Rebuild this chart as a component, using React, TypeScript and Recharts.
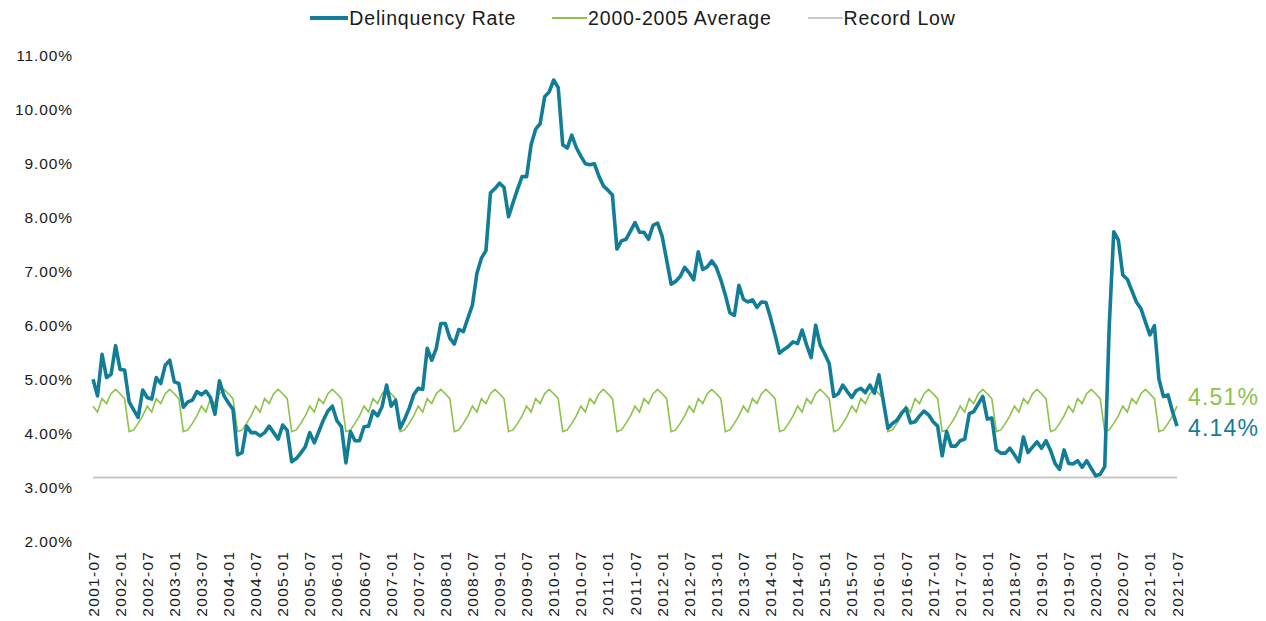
import React from 'react';
import { LineChart, Line, XAxis, YAxis, ReferenceLine, Legend, LabelList } from 'recharts';

// ---- data ----
const START_YEAR = 2001;
const START_MONTH = 7;

const DELINQUENCY: number[] = [
  5.01, 4.70, 5.47, 5.04, 5.10, 5.63, 5.19, 5.18, 4.59, 4.44, 4.30, 4.81,
  4.67, 4.64, 5.04, 4.93, 5.27, 5.36, 4.96, 4.93, 4.49, 4.59, 4.62, 4.78,
  4.72, 4.79, 4.67, 4.36, 4.98, 4.70, 4.57, 4.45, 3.61, 3.65, 4.14, 4.02,
  4.02, 3.96, 4.02, 4.14, 4.02, 3.90, 4.16, 4.06, 3.48, 3.54, 3.64, 3.76,
  4.02, 3.83, 4.04, 4.25, 4.42, 4.51, 4.24, 4.13, 3.46, 4.04, 3.87, 3.87,
  4.13, 4.14, 4.42, 4.33, 4.50, 4.90, 4.51, 4.62, 4.10, 4.27, 4.47, 4.72,
  4.84, 4.82, 5.58, 5.36, 5.58, 6.04, 6.04, 5.77, 5.66, 5.93, 5.89, 6.14,
  6.38, 6.97, 7.25, 7.39, 8.46, 8.54, 8.64, 8.56, 8.02, 8.28, 8.53, 8.76,
  8.76, 9.35, 9.64, 9.74, 10.24, 10.33, 10.55, 10.41, 9.35, 9.29, 9.53, 9.30,
  9.14, 9.00, 8.98, 9.00, 8.77, 8.59, 8.51, 8.42, 7.42, 7.57, 7.60, 7.75,
  7.91, 7.73, 7.73, 7.60, 7.86, 7.90, 7.66, 7.22, 6.77, 6.82, 6.91, 7.08,
  6.98, 6.85, 7.37, 7.04, 7.09, 7.20, 7.08, 6.85, 6.57, 6.24, 6.19, 6.75,
  6.49, 6.44, 6.48, 6.34, 6.44, 6.43, 6.15, 5.83, 5.49, 5.56, 5.62, 5.70,
  5.67, 5.92, 5.64, 5.41, 6.01, 5.64, 5.48, 5.30, 4.69, 4.74, 4.90, 4.78,
  4.67, 4.80, 4.84, 4.76, 4.90, 4.75, 5.09, 4.59, 4.10, 4.19, 4.25, 4.38,
  4.47, 4.20, 4.22, 4.33, 4.42, 4.35, 4.22, 4.14, 3.59, 4.04, 3.77, 3.77,
  3.87, 3.90, 4.37, 4.41, 4.55, 4.69, 4.27, 4.29, 3.70, 3.64, 3.64, 3.73,
  3.61, 3.48, 3.94, 3.65, 3.75, 3.85, 3.73, 3.87, 3.69, 3.45, 3.34, 3.70,
  3.45, 3.44, 3.50, 3.38, 3.50, 3.36, 3.22, 3.25, 3.39, 6.00, 7.74, 7.59,
  6.94, 6.86, 6.65, 6.44, 6.32, 6.07, 5.83, 6.00, 5.01, 4.69, 4.72, 4.41,
  4.14,
];

// 2000-2005 average by calendar month (Jan..Dec)
const AVG_BY_MONTH: number[] = [4.74, 4.65, 4.04, 4.07, 4.19, 4.33, 4.51, 4.40, 4.65, 4.56, 4.74, 4.82];

const RECORD_LOW = 3.19;

const Y_TICKS: number[] = [2, 3, 4, 5, 6, 7, 8, 9, 10, 11];

const SERIES_NAMES = ['Delinquency Rate', '2000-2005 Average', 'Record Low'];

// ---- derived table ----
const MONTHS: string[] = DELINQUENCY.map((_, i) => {
  const m0 = START_MONTH - 1 + i;
  const y = START_YEAR + Math.floor(m0 / 12);
  const m = (m0 % 12) + 1;
  return `${y}-${String(m).padStart(2, '0')}`;
});

const TICK_LABELS: string[] = MONTHS.filter((d) => d.endsWith('-01') || d.endsWith('-07'));

const DATA = MONTHS.map((d, i) => ({
  date: d,
  rate: DELINQUENCY[i],
  avg: AVG_BY_MONTH[parseInt(d.slice(5), 10) - 1],
}));

const LAST = DATA.length - 1;

// ---- styles ----
const TEAL = '#117D97';
const GREEN = '#8DC24B';
const GRAY = '#C8C8C8';
const TEXT = '#1a1a1a';
const FONT = '"Liberation Sans", Arial, Helvetica, sans-serif';

const XTick = (props: any) => {
  const { x, y, payload } = props;
  return (
    <text
      x={x}
      y={y}
      transform={`rotate(-90, ${x}, ${y})`}
      textAnchor="end"
      dy="0.36em"
      fontSize={15.5}
      letterSpacing={1.3}
      fontFamily={FONT}
      fill={TEXT}
    >
      {payload.value}
    </text>
  );
};

const YTick = (props: any) => {
  const { x, y, payload } = props;
  return (
    <text
      x={x}
      y={y}
      textAnchor="end"
      dy="0.36em"
      fontSize={15.5}
      letterSpacing={0.9}
      fontFamily={FONT}
      fill={TEXT}
    >
      {`${Number(payload.value).toFixed(2)}%`}
    </text>
  );
};

const makeEndLabel = (color: string, dyOffset: number) => (props: any) => {
  const { x, y, value, index } = props;
  if (index !== LAST) return null;
  return (
    <text
      x={Number(x) + 11}
      y={Number(y) + dyOffset}
      dy="0.36em"
      fontSize={23}
      letterSpacing={1.2}
      fontFamily={FONT}
      fill={color}
    >
      {`${Number(value).toFixed(2)}%`}
    </text>
  );
};

const LEGEND_ITEMS = [
  { name: SERIES_NAMES[0], color: TEAL, w: 38, h: 4 },
  { name: SERIES_NAMES[1], color: GREEN, w: 35, h: 2 },
  { name: SERIES_NAMES[2], color: GRAY, w: 35, h: 2 },
];

const renderLegend = () => (
  <div
    style={{
      display: 'flex',
      justifyContent: 'center',
      alignItems: 'center',
      height: 36,
      width: 1266,
      fontFamily: FONT,
      fontSize: 19.5,
      letterSpacing: 0.8,
      color: TEXT,
    }}
  >
    {LEGEND_ITEMS.map((it, i) => (
      <div key={it.name} style={{ display: 'flex', alignItems: 'center', marginRight: i < LEGEND_ITEMS.length - 1 ? 36 : 0 }}>
        <span style={{ display: 'inline-block', width: it.w, height: it.h, background: it.color, marginRight: 1 }} />
        <span>{it.name}</span>
      </div>
    ))}
  </div>
);

export default function App() {
  return (
    <div style={{ position: 'absolute', left: 0, top: 0, width: 1266, height: 621, background: '#fff' }}>
      <LineChart
        width={1266}
        height={621}
        data={DATA}
        margin={{ top: 19.7, right: 89, left: 0, bottom: 0 }}
      >
        <Legend
          verticalAlign="top"
          align="center"
          height={36}
          content={renderLegend}
          wrapperStyle={{ top: 0, left: 0, width: 1266, height: 36 }}
        />
        <XAxis
          dataKey="date"
          ticks={TICK_LABELS}
          interval={0}
          axisLine={false}
          tickLine={false}
          tickSize={0}
          tickMargin={9}
          height={79.3}
          tick={<XTick />}
        />
        <YAxis
          domain={[2, 11]}
          ticks={Y_TICKS}
          interval={0}
          axisLine={false}
          tickLine={false}
          tickSize={0}
          tickMargin={20}
          width={93}
          tick={<YTick />}
        />
        <ReferenceLine y={RECORD_LOW} stroke={GRAY} strokeWidth={2} ifOverflow="extendDomain" />
        <Line
          type="linear"
          dataKey="avg"
          name={SERIES_NAMES[1]}
          stroke={GREEN}
          strokeWidth={1.6}
          dot={false}
          activeDot={false}
          isAnimationActive={false}
        >
          <LabelList dataKey="avg" content={makeEndLabel(GREEN, -9)} />
        </Line>
        <Line
          type="linear"
          dataKey="rate"
          name={SERIES_NAMES[0]}
          stroke={TEAL}
          strokeWidth={3.6}
          strokeLinejoin="round"
          dot={false}
          activeDot={false}
          isAnimationActive={false}
        >
          <LabelList dataKey="rate" content={makeEndLabel(TEAL, 2)} />
        </Line>
      </LineChart>
    </div>
  );
}
